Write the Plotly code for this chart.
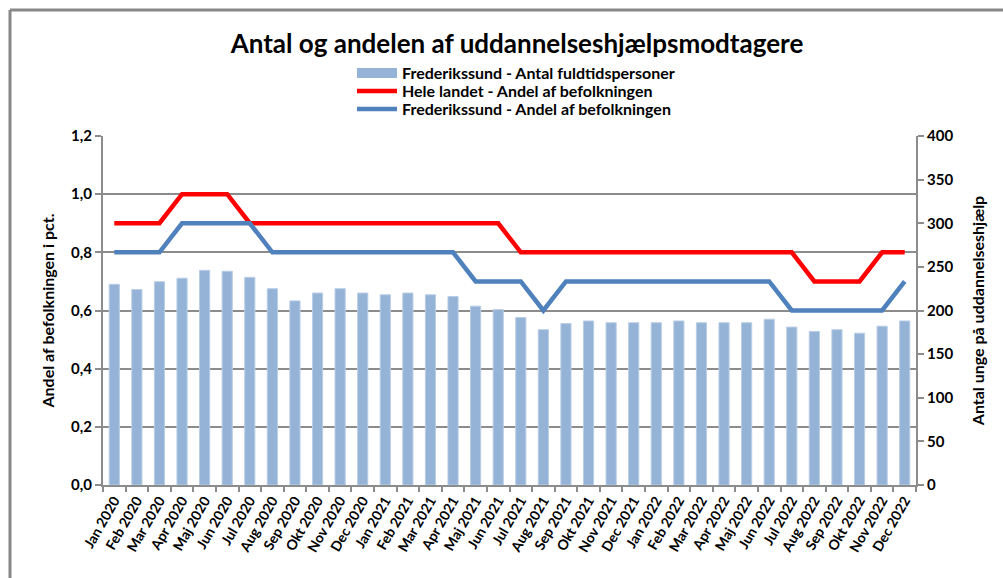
import plotly.graph_objects as go

months = ["Jan 2020", "Feb 2020", "Mar 2020", "Apr 2020", "Maj 2020", "Jun 2020",
          "Jul 2020", "Aug 2020", "Sep 2020", "Okt 2020", "Nov 2020", "Dec 2020",
          "Jan 2021", "Feb 2021", "Mar 2021", "Apr 2021", "Maj 2021", "Jun 2021",
          "Jul 2021", "Aug 2021", "Sep 2021", "Okt 2021", "Nov 2021", "Dec 2021",
          "Jan 2022", "Feb 2022", "Mar 2022", "Apr 2022", "Maj 2022", "Jun 2022",
          "Jul 2022", "Aug 2022", "Sep 2022", "Okt 2022", "Nov 2022", "Dec 2022"]

antal_fuldtid = [230, 224, 233, 237, 246, 245, 238, 225, 211, 220, 225, 220,
                 218, 220, 218, 216, 205, 201, 192, 178, 185, 188, 186, 186,
                 186, 188, 186, 186, 186, 190, 181, 176, 178, 174, 182, 188]

hele_landet = [0.9, 0.9, 0.9, 1.0, 1.0, 1.0, 0.9, 0.9, 0.9, 0.9, 0.9, 0.9,
               0.9, 0.9, 0.9, 0.9, 0.9, 0.9, 0.8, 0.8, 0.8, 0.8, 0.8, 0.8,
               0.8, 0.8, 0.8, 0.8, 0.8, 0.8, 0.8, 0.7, 0.7, 0.7, 0.8, 0.8]

frederikssund = [0.8, 0.8, 0.8, 0.9, 0.9, 0.9, 0.9, 0.8, 0.8, 0.8, 0.8, 0.8,
                 0.8, 0.8, 0.8, 0.8, 0.7, 0.7, 0.7, 0.6, 0.7, 0.7, 0.7, 0.7,
                 0.7, 0.7, 0.7, 0.7, 0.7, 0.7, 0.6, 0.6, 0.6, 0.6, 0.6, 0.7]

FONT = "Lato"
W, H = 1003, 578
ML, MR, MT, MB = 103, 87, 136, 93
pw, ph = W - ML - MR, H - MT - MB

def px_x(x):
    return (x - ML) / pw

def px_y(y):
    return (H - MB - y) / ph

BAR_COLOR = "#95B3D7"

fig = go.Figure()
fig.add_trace(go.Bar(
    x=months, y=antal_fuldtid, name="Frederikssund - Antal fuldtidspersoner",
    yaxis="y2", marker=dict(color=BAR_COLOR, line=dict(color="#B9CDE5", width=1)),
    width=0.45, showlegend=False,
))
# legend entry for the bars (wide rectangle symbol like the original)
fig.add_trace(go.Scatter(
    x=[None], y=[None], name="Frederikssund - Antal fuldtidspersoner",
    mode="lines", line=dict(color=BAR_COLOR, width=10), legend="legend",
))
fig.add_trace(go.Scatter(
    x=months, y=hele_landet, name="Hele landet - Andel af befolkningen",
    mode="lines", line=dict(color="#FF0000", width=4.5), yaxis="y",
    legend="legend2",
))
fig.add_trace(go.Scatter(
    x=months, y=frederikssund, name="Frederikssund - Andel af befolkningen",
    mode="lines", line=dict(color="#4F81BD", width=4.5), yaxis="y",
    legend="legend3",
))

LEGFONT = dict(family=FONT, size=16, color="black", weight="bold")
def leg(yc):
    return dict(x=px_x(352), xanchor="left", y=px_y(yc), yanchor="middle",
                font=LEGFONT, bgcolor="rgba(0,0,0,0)", itemwidth=40)

grid = "#8C8C8C"
fig.update_layout(
    width=W, height=H,
    margin=dict(l=ML, r=MR, t=MT, b=MB),
    paper_bgcolor="white", plot_bgcolor="white",
    separators=",.",
    font=dict(family=FONT, size=15, color="black", weight="bold"),
    title=dict(text="Antal og andelen af uddannelseshjælpsmodtagere",
               x=517 / W, xanchor="center",
               y=1 - 44 / H, yanchor="middle",
               font=dict(family=FONT, size=26, color="black", weight="bold")),
    showlegend=True,
    legend=leg(73), legend2=leg(91), legend3=leg(109),
    bargap=0.5,
    xaxis=dict(type="category", tickangle=-60, showgrid=False,
               showline=True, linecolor=grid, linewidth=2,
               ticks="outside", ticklen=5, tickcolor=grid, tickwidth=1.5,
               tickson="boundaries",
               tickfont=dict(family=FONT, size=14, weight="bold"),
               range=[-0.5, 35.5]),
    yaxis=dict(range=[0, 1.2], dtick=0.2, tickformat=".1f",
               showgrid=True, gridcolor=grid, gridwidth=2,
               showline=True, linecolor=grid, linewidth=2,
               ticks="outside", ticklen=6, tickcolor=grid, tickwidth=1.5,
               tickfont=dict(family=FONT, size=15, weight="bold"),
               title=dict(text="Andel af befolkningen i pct.", standoff=12,
                          font=dict(family=FONT, size=16, weight="bold")),
               zeroline=False),
    yaxis2=dict(range=[0, 400], dtick=50, overlaying="y", side="right",
                showgrid=False, showline=True, linecolor=grid, linewidth=2,
                ticks="outside", ticklen=6, tickcolor=grid, tickwidth=1.5,
                tickfont=dict(family=FONT, size=15, weight="bold"),
                title=dict(text="Antal unge på uddannelseshjælp", standoff=20,
                           font=dict(family=FONT, size=16, weight="bold")),
                zeroline=False),
)

# outer frame (top and left borders)
fig.add_shape(type="line", xref="paper", yref="paper",
              x0=px_x(10), x1=px_x(W + 5), y0=px_y(10), y1=px_y(10),
              line=dict(color="#888888", width=3), layer="above")
fig.add_shape(type="line", xref="paper", yref="paper",
              x0=px_x(10), x1=px_x(10), y0=px_y(10), y1=px_y(H + 5),
              line=dict(color="#888888", width=3), layer="above")

fig.write_html("out.html", config={"displayModeBar": False},
               post_script="document.body.style.margin='0';document.body.style.overflow='hidden';")
